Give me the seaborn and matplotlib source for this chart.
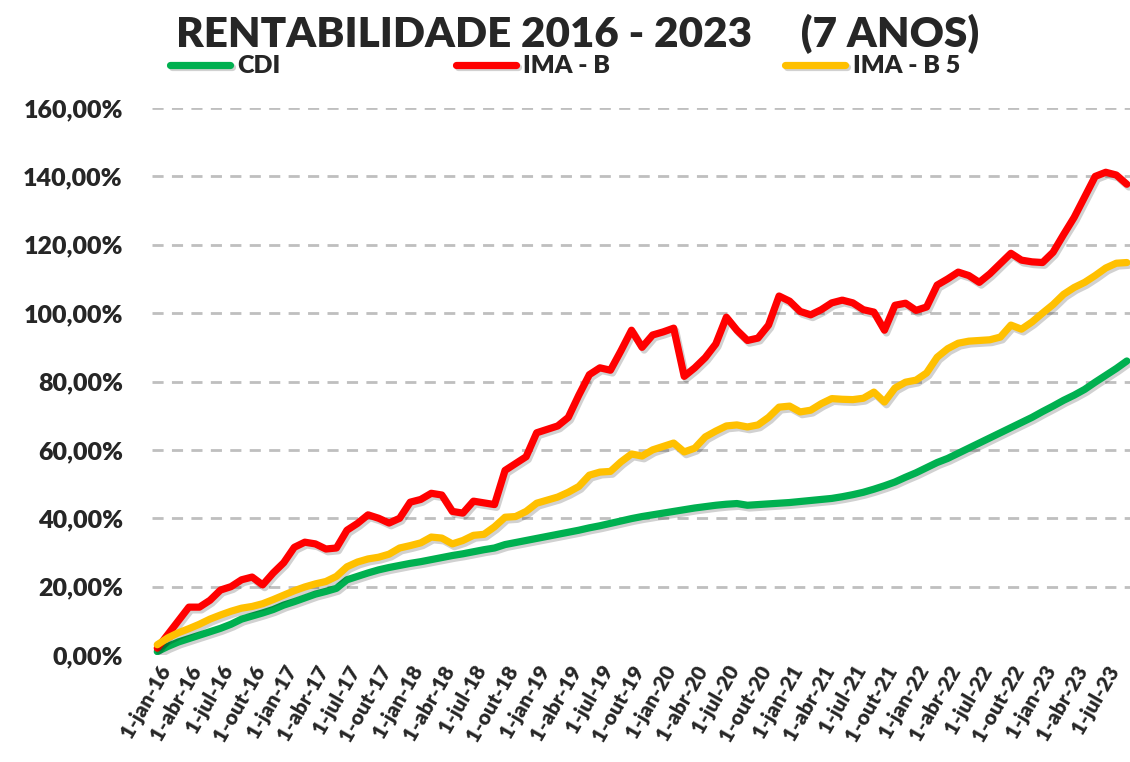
import matplotlib
matplotlib.use("Agg")
from matplotlib import pyplot as plt
import matplotlib.patheffects as pe
import seaborn as sns
import pandas as pd

# monthly accumulated return (%), jan/2016 .. set/2023
cdi = [1, 2.5, 3.8, 4.8, 5.8, 6.8, 7.8, 9, 10.5, 11.4, 12.3, 13.3, 14.6, 15.6, 16.7, 17.8,
       18.6, 19.5, 22, 23, 24, 24.9, 25.6, 26.2, 26.8, 27.3, 27.9, 28.5, 29.1, 29.6, 30.2,
       30.8, 31.3, 32.3, 32.9, 33.5, 34.1, 34.7, 35.3, 35.9, 36.5, 37.2, 37.8, 38.5, 39.2,
       39.9, 40.5, 41, 41.5, 42, 42.5, 43, 43.4, 43.8, 44.1, 44.3, 43.8, 44.0, 44.2, 44.4,
       44.6, 44.9, 45.2, 45.5, 45.8, 46.3, 46.9, 47.6, 48.5, 49.5, 50.6, 52, 53.3, 54.8,
       56.3, 57.5, 59, 60.5, 62, 63.5, 65, 66.5, 68, 69.5, 71.2, 72.8, 74.5, 76, 77.7,
       79.8, 81.8, 83.8, 86]
ima_b = [2, 6, 10, 14, 14, 16, 19, 20, 22, 22.8, 20.5, 24, 27, 31.5, 33, 32.5, 31, 31.3,
         36.5, 38.5, 41, 40, 38.6, 40, 44.7, 45.5, 47.3, 46.8, 42, 41.5, 45, 44.5, 44, 54,
         56, 58, 65, 66, 67, 69.5, 76, 82, 84, 83.3, 89, 95, 90, 93.6, 94.5, 95.6, 81.5, 84,
         87, 91, 98.8, 95, 92, 92.7, 96.5, 105, 103.5, 100.5, 99.5, 101, 103, 103.8, 103,
         101, 100.3, 95, 102.3, 102.9, 100.8, 101.8, 108.2, 110, 112, 111, 109, 111.5, 114.5,
         117.5, 115.5, 115, 114.8, 117.8, 123, 128, 134, 140, 141.2, 140.4, 137.7]
ima_b5 = [3, 5, 6.5, 7.7, 9, 10.5, 11.7, 12.8, 13.7, 14.2, 15, 16.2, 17.5, 18.8, 19.9, 20.8,
          21.5, 23, 25.8, 27.2, 28.1, 28.6, 29.5, 31.3, 32, 32.8, 34.5, 34.2, 32.5, 33.5, 35,
          35.3, 37.5, 40.3, 40.5, 42, 44.4, 45.3, 46.2, 47.6, 49.3, 52.6, 53.5, 53.7, 56.5,
          58.8, 58.2, 60, 61, 62, 59.4, 60.5, 63.8, 65.5, 67, 67.3, 66.7, 67.3, 69.5, 72.5,
          72.8, 71.1, 71.6, 73.5, 75, 74.8, 74.7, 75.1, 76.9, 74, 78.1, 79.8, 80.4, 82.5,
          87.1, 89.6, 91.2, 91.8, 92, 92.2, 93, 96.5, 95.3, 97.4, 100, 102.5, 105.5, 107.5,
          109, 111, 113.2, 114.6, 114.8]

series = ["CDI", "IMA - B", "IMA - B 5"]
cores = ["#00B050", "#FF0000", "#FFC000"]
meses = ["jan", "abr", "jul", "out"]
anos = ["16", "17", "18", "19", "20", "21", "22", "23"]
rotulos_x = ["1-%s-%s" % (m, a) for a in anos for m in meses][:31]
rotulos_y = ["0,00%", "20,00%", "40,00%", "60,00%", "80,00%", "100,00%", "120,00%",
             "140,00%", "160,00%"]

n = len(cdi)
df = pd.DataFrame({
    "mes": list(range(n)) * 3,
    "valor": cdi + ima_b + ima_b5,
    "indice": [s for s in series for _ in range(n)],
})

sns.set_style("white")
plt.rcParams["font.family"] = ["Lato", "DejaVu Sans"]
plt.rcParams["font.weight"] = "bold"

fig = plt.figure(figsize=(11.3, 7.62), dpi=100)
ax = fig.add_axes([152 / 1130, 107 / 762, 978 / 1130, 547 / 762])

sns.lineplot(data=df, x="mes", y="valor", hue="indice", hue_order=series,
             palette=cores, linewidth=5.2, ax=ax, legend=False)
for ln in ax.lines:
    ln.set_solid_capstyle("round")
    ln.set_solid_joinstyle("round")
    ln.set_path_effects([pe.SimpleLineShadow(offset=(1.5, -2), shadow_color="black", alpha=0.18),
                         pe.Normal()])

ax.set_xlim(-0.5, 92.3)
ax.set_ylim(0, 160)
ax.set_yticks(range(0, 161, 20))
ax.set_yticklabels(rotulos_y, fontsize=18, fontweight="heavy")
ax.set_xticks(range(0, 91, 3))
ax.set_xticklabels(rotulos_x, rotation=60, ha="right", rotation_mode="anchor",
                   fontsize=15, fontweight="heavy")
ax.tick_params(axis="y", length=0, pad=21)
ax.tick_params(axis="x", length=0, pad=5)
ax.set_xlabel("")
ax.set_ylabel("")
for y in range(20, 161, 20):
    ax.axhline(y, color="#BFBFBF", lw=2, ls=(0, (4, 3)), zorder=0)
for s in ax.spines.values():
    s.set_visible(False)

fig.text(0.511, 0.955, "RENTABILIDADE 2016 - 2023     (7 ANOS)", ha="center", va="center",
         fontsize=30.3, fontweight="heavy")
fig.legend(handles=ax.lines[:3], labels=series, loc="center", bbox_to_anchor=(0.5, 0.913),
           ncol=3, frameon=False, handlelength=2.4, handletextpad=0.3,
           columnspacing=7.0, prop={"weight": "heavy", "size": 18})

fig.savefig("out.png", dpi=100)
